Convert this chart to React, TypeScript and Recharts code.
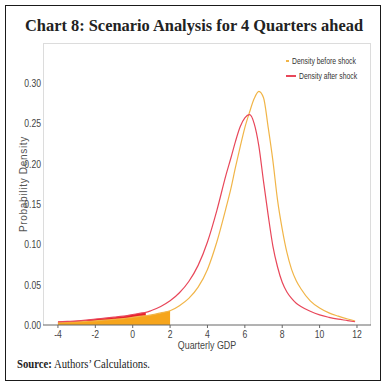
import React from "react";
import {
  ComposedChart,
  Line,
  Area,
  XAxis,
  YAxis,
} from "recharts";

const gdp = [
  -4, -3.5, -3, -2.5, -2, -1.5, -1, -0.5, 0, 0.5, 0.7, 1, 1.5, 2, 2.5, 3, 3.5,
  4, 4.5, 5, 5.25, 5.5, 5.75, 6, 6.25, 6.5, 6.75, 7, 7.25, 7.5, 7.75, 8, 8.25,
  8.5, 8.75, 9, 9.5, 10, 10.5, 11, 11.5, 11.9,
];
const densityBefore = [
  0.003, 0.0035, 0.004, 0.0045, 0.005, 0.006, 0.007, 0.008, 0.0095, 0.011,
  0.0115, 0.0125, 0.015, 0.0177, 0.024, 0.033, 0.047, 0.069, 0.103, 0.146,
  0.169, 0.196, 0.221, 0.245, 0.264, 0.281, 0.29, 0.282, 0.245, 0.204, 0.155,
  0.119, 0.09, 0.069, 0.055, 0.045, 0.03, 0.021, 0.015, 0.011, 0.0075, 0.005,
];
const densityAfter = [
  0.004, 0.0045, 0.005, 0.006, 0.0074, 0.0085, 0.0097, 0.011, 0.013, 0.015,
  0.0157, 0.018, 0.023, 0.03, 0.04, 0.054, 0.074, 0.103, 0.142, 0.187, 0.207,
  0.228, 0.246, 0.257, 0.261, 0.25, 0.222, 0.178, 0.136, 0.098, 0.072, 0.053,
  0.041, 0.033, 0.027, 0.023, 0.017, 0.0125, 0.0095, 0.0072, 0.0055, 0.004,
];
const beforeShadeEnd = 2;
const afterShadeEnd = 0.7;
const xTicks = [-4, -2, 0, 2, 4, 6, 8, 10, 12];
const yTicks = [0, 0.05, 0.1, 0.15, 0.2, 0.25, 0.3];
const seriesNames = ["Density before shock", "Density after shock"];
const titleText = "Chart 8: Scenario Analysis for 4 Quarters ahead";

const ORANGE_LINE = "#f1b548";
const RED_LINE = "#e8475a";
const ORANGE_FILL = "#f6a51c";
const RED_FILL = "#e8212b";
const SANS = "'Liberation Sans', Arial, sans-serif";
const SERIF = "'Liberation Serif', 'DejaVu Serif', serif";

const data = gdp.map((x, i) => ({
  x,
  before: densityBefore[i],
  after: densityAfter[i],
  beforeFill: x <= beforeShadeEnd ? densityBefore[i] : null,
  afterFill: x <= afterShadeEnd ? densityAfter[i] : null,
}));

const NarrowTick = (props: any) => {
  const { x, y, payload, textAnchor, formatter, dy } = props;
  const label = formatter ? formatter(payload.value) : String(payload.value);
  return (
    <g transform={`translate(${x},${y}) scale(0.82,1)`}>
      <text
        x={0}
        y={0}
        dy={dy}
        textAnchor={textAnchor}
        style={{ fontFamily: SANS, fontSize: 10.5, fill: "#444" }}
      >
        {label}
      </text>
    </g>
  );
};

const XTick = (props: any) => <NarrowTick {...props} dy="0.85em" textAnchor="middle" />;
const YTick = (props: any) => (
  <NarrowTick
    {...props}
    dy="0.36em"
    textAnchor="end"
    formatter={(v: number) => v.toFixed(2)}
  />
);

const YLabel = (props: any) => {
  const vb = props.viewBox || {};
  const cx = vb.x + 10;
  const cy = vb.y + vb.height / 2;
  return (
    <text
      x={cx}
      y={cy}
      transform={`rotate(-90, ${cx}, ${cy})`}
      textAnchor="middle"
      dominantBaseline="central"
      style={{ fontFamily: SANS, fontSize: 10, letterSpacing: 0.7, fill: "#555" }}
    >
      Probability Density
    </text>
  );
};

const XLabel = (props: any) => {
  const vb = props.viewBox || {};
  const cx = vb.x + vb.width / 2;
  const cy = vb.y + 20;
  return (
    <g transform={`translate(${cx},${cy}) scale(0.85,1)`}>
      <text
        x={0}
        y={0}
        textAnchor="middle"
        dominantBaseline="central"
        style={{ fontFamily: SANS, fontSize: 10.5, fill: "#444" }}
      >
        Quarterly GDP
      </text>
    </g>
  );
};

const LegendBox = () => {
  const colors = [ORANGE_LINE, RED_LINE];
  return (
    <div style={{ position: "absolute", left: 286, top: 53, width: 95 }}>
      {seriesNames.map((n, i) => (
        <div
          key={n}
          style={{
            display: "flex",
            alignItems: "center",
            height: 15,
            whiteSpace: "nowrap",
          }}
        >
          <span
            style={{
              display: "inline-block",
              width: 10,
              height: 2,
              background: colors[i],
              marginRight: 3,
            }}
          />
          <span
            style={{
              display: "inline-block",
              fontFamily: SANS,
              fontSize: 9.5,
              color: "#333",
              transform: "scaleX(0.72)",
              transformOrigin: "left center",
            }}
          >
            {n}
          </span>
        </div>
      ))}
    </div>
  );
};

export default function App() {
  return (
    <div>
      <div
        style={{
          position: "absolute",
          left: 5,
          top: 5,
          width: 376,
          height: 376,
          border: "1.5px solid #1a1a1a",
          boxSizing: "border-box",
        }}
      />
      <div
        style={{
          position: "absolute",
          left: 43,
          top: 43,
          width: 328,
          height: 282,
          border: "1px solid #dcdcdc",
          borderBottom: "none",
          boxSizing: "border-box",
        }}
      />
      <svg
        width={387}
        height={50}
        style={{ position: "absolute", left: 0, top: 0 }}
      >
        <text
          x={194}
          y={31}
          textAnchor="middle"
          textLength={338}
          lengthAdjust="spacingAndGlyphs"
          style={{ fontFamily: SERIF, fontWeight: "bold", fontSize: 17.5, fill: "#222" }}
        >
          {titleText}
        </text>
      </svg>
      <div style={{ position: "absolute", left: 0, top: 0 }}>
        <ComposedChart
          width={387}
          height={387}
          data={data}
          margin={{ top: 43, right: 16, bottom: 37, left: 13 }}
        >
          <XAxis
            dataKey="x"
            type="number"
            domain={[-4.8, 12.75]}
            ticks={xTicks}
            allowDataOverflow
            height={25}
            tickSize={3}
            tickMargin={1}
            tick={<XTick />}
            axisLine={{ stroke: "#666" }}
            tickLine={{ stroke: "#666" }}
            label={<XLabel />}
          />
          <YAxis
            type="number"
            domain={[0, 0.35]}
            ticks={yTicks}
            width={30}
            tickSize={0}
            tickMargin={2}
            tick={<YTick />}
            axisLine={false}
            label={<YLabel />}
          />
          <Area
            dataKey="afterFill"
            type="monotone"
            stroke="none"
            fill={RED_FILL}
            fillOpacity={1}
            isAnimationActive={false}
            legendType="none"
            connectNulls={false}
          />
          <Area
            dataKey="beforeFill"
            type="monotone"
            stroke="none"
            fill={ORANGE_FILL}
            fillOpacity={1}
            isAnimationActive={false}
            legendType="none"
            connectNulls={false}
          />
          <Line
            dataKey="before"
            name={seriesNames[0]}
            type="monotone"
            stroke={ORANGE_LINE}
            strokeWidth={1.2}
            dot={false}
            isAnimationActive={false}
          />
          <Line
            dataKey="after"
            name={seriesNames[1]}
            type="monotone"
            stroke={RED_LINE}
            strokeWidth={1.2}
            dot={false}
            isAnimationActive={false}
          />
        </ComposedChart>
      </div>
      <LegendBox />
      <svg
        width={387}
        height={20}
        style={{ position: "absolute", left: 0, top: 357 }}
      >
        <text
          x={17}
          y={11}
          textLength={133}
          lengthAdjust="spacingAndGlyphs"
          style={{ fontFamily: SERIF, fontSize: 11.5, fill: "#222" }}
        >
          <tspan fontWeight="bold">Source:</tspan> Authors’ Calculations.
        </text>
      </svg>
    </div>
  );
}
